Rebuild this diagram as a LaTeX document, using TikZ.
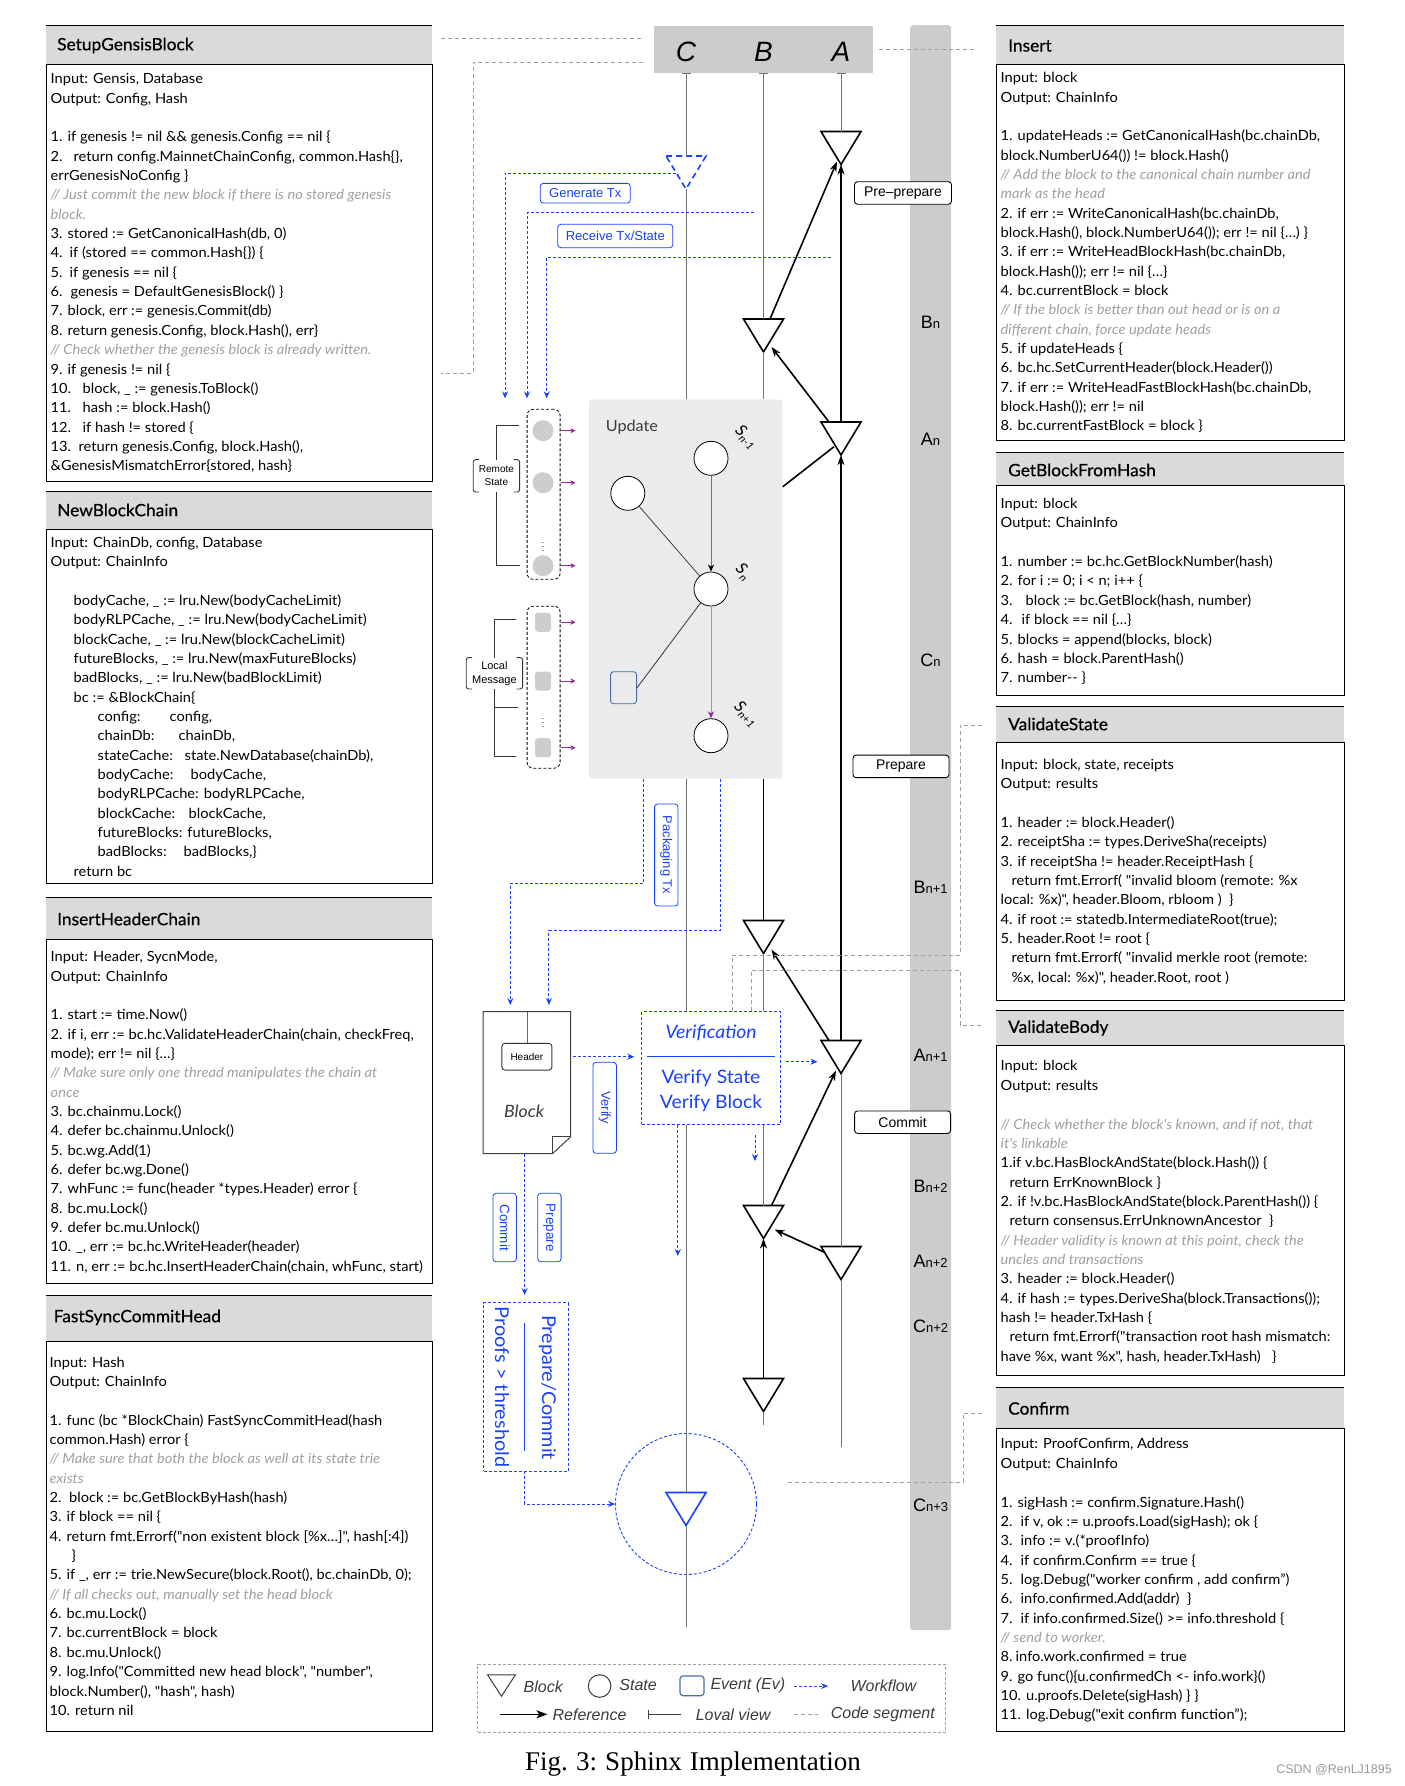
\documentclass[tikz,border=0pt]{standalone}
\usepackage{fontspec}
\usetikzlibrary{arrows.meta,calc}
\setmainfont{Lato}
\newfontfamily\codefont[FakeStretch=1.045]{Lato}
\newfontfamily\ttlfont[FakeBold=0.5,FakeStretch=1.02]{Lato}
\newfontfamily\hfont{Liberation Sans}
\newfontfamily\capfont{Liberation Serif}
\definecolor{hdrgray}{RGB}{218,218,218}
\definecolor{bargray}{RGB}{204,204,204}
\definecolor{updgray}{RGB}{235,235,235}
\definecolor{wfblue}{RGB}{25,65,255}
\definecolor{cmtgray}{RGB}{160,160,160}
\definecolor{pur}{RGB}{150,40,150}
\definecolor{lpur}{RGB}{195,130,200}
\definecolor{evblue}{RGB}{70,110,170}
\definecolor{linegray}{RGB}{115,115,115}
\definecolor{dashgray}{RGB}{160,160,160}
\definecolor{txtgray}{RGB}{60,60,60}
\definecolor{dotgray}{RGB}{205,205,205}
\newcommand\cmt[1]{{\itshape\color{cmtgray}#1}}
\newcommand\tb[2]{\makebox[#1pt][l]{#2}}
\newcommand\barlab[2]{{\fontsize{18}{18}\selectfont #1}{\fontsize{13}{13}\selectfont #2}}
\newcommand\slab[2]{#1{\fontsize{10.5}{10.5}\selectfont\raisebox{-3pt}{#2}}}
\tikzset{
  hdrband/.style={fill=hdrgray},
  codebody/.style={draw=black, line width=1.3pt, anchor=north west, inner sep=0pt},
  codetxt/.style={anchor=north west, inner sep=0pt, align=left, font=\codefont\fontsize{14}{19.35}\selectfont},
  ttl/.style={anchor=west, inner sep=0pt, font=\ttlfont\fontsize{17}{20}\selectfont},
  tribox/.style={minimum width=40pt, minimum height=33pt, inner sep=0pt, outer sep=0pt},
  tl/.style={linegray, line width=0.9pt},
  refl/.style={black, line width=1.6pt},
  refa/.style={black, line width=1.6pt, -{Stealth[length=10pt,width=7pt,inset=3pt]}},
  wf/.style={wfblue, line width=0.9pt, dash pattern=on 3pt off 2pt},
  wfa/.style={wf, -{Stealth[length=7pt,width=6pt,inset=2.5pt]}},
  seg/.style={dashgray, line width=0.9pt, dash pattern=on 4pt off 3pt},
  wfbox/.style={draw=wfblue, line width=0.8pt, rounded corners=3pt, fill=white, text=wfblue, inner sep=0pt, font=\hfont\fontsize{13}{15}\selectfont},
  labbox/.style={draw=black, line width=0.9pt, rounded corners=3pt, fill=white, inner sep=0pt, font=\hfont\fontsize{14}{16}\selectfont},
  barl/.style={font=\hfont, inner sep=0pt},
  stc/.style={circle, draw=black, line width=0.8pt, fill=white, minimum size=34pt, inner sep=0pt},
  pa/.style={pur, line width=0.8pt, -{Stealth[length=5pt,width=5pt,inset=1.5pt]}},
  legtxt/.style={anchor=west, inner sep=0pt, text=txtgray, font=\hfont\itshape\fontsize{16}{18}\selectfont},
  slabel/.style={rotate=-45, inner sep=0pt, font=\codefont\itshape\fontsize{16}{16}\selectfont},
}
\newcommand\blk[4][black]{%
  \node[tribox] (#2) at (#3,#4) {};
  \draw[#1, line width=1.6pt, fill=white, line join=miter] (#2.north west) -- (#2.north east) -- (#2.south) -- cycle;}
\begin{document}
\begin{tikzpicture}[x=1pt,y=-1pt]
\useasboundingbox (0,0) rectangle (1405,1786);
\fill[white] (0,0) rectangle (1405,1786);

% ================= LEFT CODE BOXES =================
% SetupGensisBlock
\fill[hdrband] (46,25) rectangle (432,64);
\draw[line width=0.8pt] (46,25) -- (432,25);
\node[codebody, minimum width=386pt, minimum height=417pt] (sgb) at (46,64) {};
\node[ttl] (sgbT) at (57,45.5) {SetupGensisBlock};
\node[codetxt] (sgbC) at (50.5,70) {\strut Input: Gensis, Database\\
Output: Config, Hash\\
~\\
1. if genesis != nil \&\& genesis.Config == nil \{\\
\tb{23}{2.}return config.MainnetChainConfig, common.Hash\{\},\\
errGenesisNoConfig \}\\
\cmt{// Just commit the new block if there is no stored genesis}\\
\cmt{block.}\\
3. stored := GetCanonicalHash(db, 0)\\
\tb{19}{4.}if (stored == common.Hash\{\}) \{\\
\tb{19}{5.}if genesis == nil \{\\
\tb{20}{6.}genesis = DefaultGenesisBlock() \}\\
7. block, err := genesis.Commit(db)\\
8. return genesis.Config, block.Hash(), err\}\\
\cmt{// Check whether the genesis block is already written.}\\
9. if genesis != nil \{\\
\tb{32}{10.}block, \_ := genesis.ToBlock()\\
\tb{32}{11.}hash := block.Hash()\\
\tb{32}{12.}if hash != stored \{\\
\tb{28}{13.}return genesis.Config, block.Hash(),\\
\&GenesisMismatchError\{stored, hash\}};

% NewBlockChain
\fill[hdrband] (46,491) rectangle (432,529);
\draw[line width=0.8pt] (46,491) -- (432,491);
\node[codebody, minimum width=386pt, minimum height=354pt] (nbc) at (46,529) {};
\node[ttl] (nbcT) at (57,510) {NewBlockChain};
\node[codetxt] (nbcC) at (50.5,533.5) {\strut Input: ChainDb, config, Database\\
Output: ChainInfo\\
~\\
\hspace*{23pt}bodyCache, \_ := lru.New(bodyCacheLimit)\\
\hspace*{23pt}bodyRLPCache, \_ := lru.New(bodyCacheLimit)\\
\hspace*{23pt}blockCache, \_ := lru.New(blockCacheLimit)\\
\hspace*{23pt}futureBlocks, \_ := lru.New(maxFutureBlocks)\\
\hspace*{23pt}badBlocks, \_ := lru.New(badBlockLimit)\\
\hspace*{23pt}bc := \&BlockChain\{\\
\hspace*{47pt}\tb{72}{config:}config,\\
\hspace*{47pt}\tb{81}{chainDb:}chainDb,\\
\hspace*{47pt}\tb{87}{stateCache:}state.NewDatabase(chainDb),\\
\hspace*{47pt}\tb{93}{bodyCache:}bodyCache,\\
\hspace*{47pt}bodyRLPCache: bodyRLPCache,\\
\hspace*{47pt}\tb{91}{blockCache:}blockCache,\\
\hspace*{47pt}futureBlocks: futureBlocks,\\
\hspace*{47pt}\tb{86}{badBlocks:}badBlocks,\}\\
\hspace*{23pt}return bc};

% InsertHeaderChain
\fill[hdrband] (46,897) rectangle (432,939);
\draw[line width=0.8pt] (46,897) -- (432,897);
\node[codebody, minimum width=386pt, minimum height=344pt] (ihc) at (46,939) {};
\node[ttl] (ihcT) at (57,919) {InsertHeaderChain};
\node[codetxt] (ihcC) at (50.5,947.9) {\strut Input: Header, SycnMode,\\
Output: ChainInfo\\
~\\
1. start := time.Now()\\
2. if i, err := bc.hc.ValidateHeaderChain(chain, checkFreq,\\
mode); err != nil \{…\}\\
\cmt{// Make sure only one thread manipulates the chain at}\\
\cmt{once}\\
3. bc.chainmu.Lock()\\
4. defer bc.chainmu.Unlock()\\
5. bc.wg.Add(1)\\
6. defer bc.wg.Done()\\
7. whFunc := func(header *types.Header) error \{\\
8. bc.mu.Lock()\\
9. defer bc.mu.Unlock()\\
10. \_, err := bc.hc.WriteHeader(header)\\
11. n, err := bc.hc.InsertHeaderChain(chain, whFunc, start)};

% FastSyncCommitHead
\fill[hdrband] (46,1295) rectangle (432,1341);
\draw[line width=0.8pt] (46,1295) -- (432,1295);
\node[codebody, minimum width=386pt, minimum height=390pt] (fsc) at (46,1341) {};
\node[ttl] (fscT) at (53.5,1317.4) {FastSyncCommitHead};
\node[codetxt] (fscC) at (49.5,1353.3) {\strut Input: Hash\\
Output: ChainInfo\\
~\\
1. func (bc *BlockChain) FastSyncCommitHead(hash\\
common.Hash) error \{\\
\cmt{// Make sure that both the block as well at its state trie}\\
\cmt{exists}\\
2.\ \ block := bc.GetBlockByHash(hash)\\
3. if block == nil \{\\
4. return fmt.Errorf("non existent block [\%x…]", hash[:4])\\
\hspace*{22pt}\}\\
5. if \_, err := trie.NewSecure(block.Root(), bc.chainDb, 0);\\
\cmt{// If all checks out, manually set the head block}\\
6. bc.mu.Lock()\\
7. bc.currentBlock = block\\
8. bc.mu.Unlock()\\
9. log.Info("Committed new head block", "number",\\
block.Number(), "hash", hash)\\
10. return nil};

% ================= RIGHT CODE BOXES =================
% Insert
\fill[hdrband] (996,25) rectangle (1344,64);
\draw[line width=0.8pt] (996,25) -- (1344,25);
\node[codebody, minimum width=348pt, minimum height=376pt] (ins) at (996,64) {};
\node[ttl] (insT) at (1008,45.5) {Insert};
\node[codetxt] (insC) at (1000.5,68.9) {\strut Input: block\\
Output: ChainInfo\\
~\\
1. updateHeads := GetCanonicalHash(bc.chainDb,\\
block.NumberU64()) != block.Hash()\\
\cmt{// Add the block to the canonical chain number and}\\
\cmt{mark as the head}\\
2. if err := WriteCanonicalHash(bc.chainDb,\\
block.Hash(), block.NumberU64()); err != nil \{…) \}\\
3. if err := WriteHeadBlockHash(bc.chainDb,\\
block.Hash()); err != nil \{…\}\\
4. bc.currentBlock = block\\
\cmt{// If the block is better than out head or is on a}\\
\cmt{different chain, force update heads}\\
5. if updateHeads \{\\
6. bc.hc.SetCurrentHeader(block.Header())\\
7. if err := WriteHeadFastBlockHash(bc.chainDb,\\
block.Hash()); err != nil\\
8. bc.currentFastBlock = block \}};

% GetBlockFromHash
\fill[hdrband] (996,452) rectangle (1344,485);
\draw[line width=0.8pt] (996,452) -- (1344,452);
\node[codebody, minimum width=348pt, minimum height=210pt] (gbh) at (996,485) {};
\node[ttl] (gbhT) at (1008,470) {GetBlockFromHash};
\node[codetxt] (gbhC) at (1000.5,494.8) {\strut Input: block\\
Output: ChainInfo\\
~\\
1. number := bc.hc.GetBlockNumber(hash)\\
2. for i := 0; i < n; i++ \{\\
\tb{25}{3.}block := bc.GetBlock(hash, number)\\
\tb{21}{4.}if block == nil \{…\}\\
5. blocks = append(blocks, block)\\
6. hash = block.ParentHash()\\
7. number{-}{-} \}};

% ValidateState
\fill[hdrband] (996,706) rectangle (1344,742);
\draw[line width=0.8pt] (996,706) -- (1344,706);
\node[codebody, minimum width=348pt, minimum height=258pt] (vst) at (996,742) {};
\node[ttl] (vstT) at (1008,724) {ValidateState};
\node[codetxt] (vstC) at (1000.5,755.5) {\strut Input: block, state, receipts\\
Output: results\\
~\\
1. header := block.Header()\\
2. receiptSha := types.DeriveSha(receipts)\\
3. if receiptSha != header.ReceiptHash \{\\
\hspace*{11pt}return fmt.Errorf( "invalid bloom (remote: \%x\\
local: \%x)", header.Bloom, rbloom )\ \ \}\\
4. if root := statedb.IntermediateRoot(true);\\
5. header.Root != root \{\\
\hspace*{11pt}return fmt.Errorf( "invalid merkle root (remote:\\
\hspace*{11pt}\%x, local: \%x)", header.Root, root )};

% ValidateBody
\fill[hdrband] (996,1010) rectangle (1344,1045);
\draw[line width=0.8pt] (996,1010) -- (1344,1010);
\node[codebody, minimum width=348pt, minimum height=330pt] (vbd) at (996,1045) {};
\node[ttl] (vbdT) at (1008,1028) {ValidateBody};
\node[codetxt] (vbdC) at (1000.5,1057.2) {\strut Input: block\\
Output: results\\
~\\
\cmt{// Check whether the block's known, and if not, that}\\
\cmt{it's linkable}\\
1.if v.bc.HasBlockAndState(block.Hash()) \{\\
\hspace*{9pt}return ErrKnownBlock \}\\
2. if !v.bc.HasBlockAndState(block.ParentHash()) \{\\
\hspace*{9pt}return consensus.ErrUnknownAncestor\ \ \}\\
\cmt{// Header validity is known at this point, check the}\\
\cmt{uncles and transactions}\\
3. header := block.Header()\\
4. if hash := types.DeriveSha(block.Transactions());\\
hash != header.TxHash \{\\
\hspace*{9pt}return fmt.Errorf("transaction root hash mismatch:\\
have \%x, want \%x", hash, header.TxHash)\ \ \ \}};

% Confirm
\fill[hdrband] (996,1387) rectangle (1344,1428);
\draw[line width=0.8pt] (996,1387) -- (1344,1387);
\node[codebody, minimum width=348pt, minimum height=303pt] (cnf) at (996,1428) {};
\node[ttl] (cnfT) at (1008,1408.4) {Confirm};
\node[codetxt] (cnfC) at (1000.5,1435.2) {\strut Input: ProofConfirm, Address\\
Output: ChainInfo\\
~\\
1. sigHash := confirm.Signature.Hash()\\
\tb{20}{2.}if v, ok := u.proofs.Load(sigHash); ok \{\\
\tb{20}{3.}info := v.(*proofInfo)\\
\tb{20}{4.}if confirm.Confirm == true \{\\
\tb{20}{5.}log.Debug("worker confirm , add confirm”)\\
\tb{20}{6.}info.confirmed.Add(addr)\ \ \}\\
\tb{20}{7.}if info.confirmed.Size() >= info.threshold \{\\
\cmt{// send to worker.}\\
\tb{15}{8.}info.work.confirmed = true\\
9. go func()\{u.confirmedCh <- info.work\}()\\
10. u.proofs.Delete(sigHash) \} \}\\
11. log.Debug("exit confirm function”);};

% ================= CENTER =================
% right gray timeline bar
\node[fill=bargray, rounded corners=3pt, minimum width=41pt, minimum height=1605pt, inner sep=0pt, anchor=north west] (bar) at (910,25) {};
\node[barl] (lBn) at (930.6,322) {\barlab{B}{n}};
\node[barl] (lAn) at (930.6,439.5) {\barlab{A}{n}};
\node[barl] (lCn) at (930.6,660) {\barlab{C}{n}};
\node[barl] (lBn1) at (930.6,887) {\barlab{B}{n+1}};
\node[barl] (lAn1) at (930.6,1055.5) {\barlab{A}{n+1}};
\node[barl] (lBn2) at (930.6,1186) {\barlab{B}{n+2}};
\node[barl] (lAn2) at (930.6,1261.5) {\barlab{A}{n+2}};
\node[barl] (lCn2) at (930.6,1326.5) {\barlab{C}{n+2}};
\node[barl] (lCn3) at (930.6,1505) {\barlab{C}{n+3}};

% phase labels
\node[labbox, minimum width=97pt, minimum height=22.5pt] (ppre) at (903,193) {Pre–prepare};
\node[labbox, minimum width=96pt, minimum height=22.5pt] (pprep) at (901,766.4) {Prepare};
\node[labbox, minimum width=96pt, minimum height=22.5pt] (pcom) at (902.6,1122.2) {Commit};

% top CBA box
\node[fill=bargray, minimum width=219pt, minimum height=47pt, inner sep=0pt, anchor=north west] (cba) at (654,26) {};
\node[font=\hfont\itshape\fontsize{28}{28}\selectfont, inner sep=0pt] (lC) at (686,52) {C};
\node[font=\hfont\itshape\fontsize{28}{28}\selectfont, inner sep=0pt] (lB) at (763.5,52) {B};
\node[font=\hfont\itshape\fontsize{28}{28}\selectfont, inner sep=0pt] (lA) at (841,52) {A};

% Update box
\node[fill=updgray, rounded corners=3pt, minimum width=193.5pt, minimum height=379pt, inner sep=0pt, anchor=north west] (upd) at (588.9,399.3) {};
\node[anchor=west, inner sep=0pt, text=txtgray, font=\codefont\fontsize{15.5}{18}\selectfont] (updT) at (605.6,426.7) {Update};
\node[stc] (s1) at (711,458.3) {};
\node[stc] (s0) at (627.8,493.3) {};
\node[stc] (sn) at (711,589) {};
\node[stc] (s2) at (711,735.7) {};
\node[draw=evblue, line width=0.9pt, rounded corners=3pt, minimum width=26pt, minimum height=32pt, inner sep=0pt] (ev) at (623.6,687.7) {};
\draw[black!75, line width=0.8pt] (s0) -- (sn);
\draw[linegray, line width=0.9pt, -{Stealth[length=7pt,width=6pt,inset=2pt,black]}] (s1) -- (sn);
\draw[black!80, line width=0.8pt] (sn) -- (ev.east);
\draw[lpur, line width=1pt, -{Stealth[length=7pt,width=6pt,inset=2pt,pur]}] (sn) -- (s2);
\node[slabel] (s1l) at (746,437) {\slab{S}{n-1}};
\node[slabel] (snl) at (743,572) {\slab{S}{n}};
\node[slabel] (s2l) at (746,714) {\slab{S}{n+1}};

% Remote state group
\node[draw, line width=0.8pt, dash pattern=on 3pt off 2pt, rounded corners=6pt, minimum width=33pt, minimum height=170pt, inner sep=0pt] (rs) at (543.6,494.3) {};
\node[circle, fill=dotgray, minimum size=21pt, inner sep=0pt] (rs1) at (543,430.7) {};
\node[circle, fill=dotgray, minimum size=21pt, inner sep=0pt] (rs2) at (543,482.7) {};
\node[circle, fill=dotgray, minimum size=21pt, inner sep=0pt] (rs3) at (543,565.7) {};
\node[inner sep=0pt, font=\fontsize{8}{8}\selectfont] (rsd) at (543,544) {$\vdots$};
\draw[pa] (rs.east |- rs1) -- ++(15,0);
\draw[pa] (rs.east |- rs2) -- ++(15,0);
\draw[pa] (rs.east |- rs3) -- ++(15,0);
\draw[black!80, line width=1pt] (519,425.7) -- (496.7,425.7) -- (496.7,565) -- (520,565);
\node[fill=white, minimum width=46pt, minimum height=32pt, inner sep=0pt, align=center, font=\hfont\fontsize{10}{13}\selectfont] (rsl) at (496.4,475.8) {Remote\\State};
\draw[black!80, line width=0.9pt, rounded corners=2.5pt] ([xshift=6pt]rsl.north west) -- (rsl.north west) -- (rsl.south west) -- ([xshift=6pt]rsl.south west);
\draw[black!80, line width=0.9pt, rounded corners=2.5pt] ([xshift=-6pt]rsl.north east) -- (rsl.north east) -- (rsl.south east) -- ([xshift=-6pt]rsl.south east);

% Local message group
\node[draw, line width=0.8pt, dash pattern=on 3pt off 2pt, rounded corners=6pt, minimum width=33pt, minimum height=162pt, inner sep=0pt] (lm) at (543.6,687.2) {};
\node[fill=dotgray, rounded corners=3pt, minimum width=16pt, minimum height=19pt, inner sep=0pt] (lm1) at (543,622.3) {};
\node[fill=dotgray, rounded corners=3pt, minimum width=16pt, minimum height=19pt, inner sep=0pt] (lm2) at (543,681) {};
\node[fill=dotgray, rounded corners=3pt, minimum width=16pt, minimum height=19pt, inner sep=0pt] (lm3) at (543,747.7) {};
\node[inner sep=0pt, font=\fontsize{8}{8}\selectfont] (lmd) at (543,720) {$\vdots$};
\draw[pa] (lm.east |- lm1) -- ++(15,0);
\draw[pa] (lm.east |- lm2) -- ++(15,0);
\draw[pa] (lm.east |- lm3) -- ++(15,0);
\draw[black!80, line width=1pt] (516,619) -- (494.2,619) -- (494.2,756.7) -- (516,756.7);
\draw[black!80, line width=1pt] (494.2,707.3) -- (518,707.3);
\node[fill=white, minimum width=56pt, minimum height=31pt, inner sep=0pt, align=center, font=\hfont\fontsize{11}{14}\selectfont] (lml) at (494.4,673.3) {Local\\Message};
\draw[black!80, line width=0.9pt, rounded corners=2.5pt] ([xshift=6pt]lml.north west) -- (lml.north west) -- (lml.south west) -- ([xshift=6pt]lml.south west);
\draw[black!80, line width=0.9pt, rounded corners=2.5pt] ([xshift=-6pt]lml.north east) -- (lml.north east) -- (lml.south east) -- ([xshift=-6pt]lml.south east);

% Block document
\node[minimum width=87pt, minimum height=141.6pt, inner sep=0pt] (blkd) at (526.9,1082.5) {};
\draw[black!75, line width=1pt, fill=white] (blkd.north west) -- (blkd.north east) -- ([yshift=16.6pt]blkd.south east) -- ([xshift=-18pt]blkd.south east) -- (blkd.south west) -- cycle;
\draw[black!75, line width=1pt] ([yshift=16.6pt]blkd.south east) -- ([xshift=-18pt,yshift=16.6pt]blkd.south east) -- ([xshift=-18pt]blkd.south east);
\node[draw=black!80, line width=0.9pt, rounded corners=3pt, minimum width=50pt, minimum height=26.7pt, inner sep=0pt, font=\hfont\fontsize{10}{12}\selectfont] (hdr) at (526.9,1056.7) {Header};
\draw[black!60, line width=0.8pt] (hdr.north |- blkd.north) -- (hdr.north);
\node[inner sep=0pt, text=txtgray, font=\codefont\itshape\fontsize{17}{20}\selectfont] (blkT) at (524.2,1111.7) {Block};

% Verification box
\node[draw=wfblue, line width=0.9pt, dash pattern=on 3pt off 2pt, minimum width=138.6pt, minimum height=112.6pt, inner sep=0pt] (ver) at (711,1068) {};
\node[inner sep=0pt, text=wfblue, font=\codefont\itshape\fontsize{18.5}{22}\selectfont] (verT) at (711,1033.3) {Verification};
\draw[wfblue, line width=1pt] (646.7,1056.7) -- (774.6,1056.7);
\node[inner sep=0pt, text=wfblue, align=center, font=\codefont\fontsize{18.5}{25}\selectfont] (verB) at (711,1091) {Verify State\\Verify Block};

% Proofs box
\node[draw=wfblue, line width=0.9pt, dash pattern=on 3pt off 2pt, minimum width=84.5pt, minimum height=168.3pt, inner sep=0pt] (prf) at (525.75,1386.85) {};
\node[rotate=-90, inner sep=0pt, text=wfblue, font=\codefont\fontsize{19}{22}\selectfont] (prfA) at (502,1387) {Proofs > threshold};
\node[rotate=-90, inner sep=0pt, text=wfblue, font=\codefont\fontsize{19}{22}\selectfont] (prfB) at (547.4,1387.5) {Prepare/Commit};
\draw[wfblue, line width=1pt] (524.2,1323.3) -- (524.2,1450.7);

% confirm circle
\node[circle, draw=wfblue, line width=0.9pt, dash pattern=on 3pt off 2pt, minimum size=141pt, inner sep=0pt] (cf) at (686,1504) {};

% blue workflow labels
\node[wfbox, minimum width=90pt, minimum height=19.7pt] (gtx) at (585.3,193.2) {Generate Tx};
\node[wfbox, minimum width=115pt, minimum height=23.4pt] (rtx) at (615.3,236) {Receive Tx/State};
\node[wfbox, rotate=-90, minimum width=102pt, minimum height=23.4pt] (pk) at (666.3,855) {Packaging Tx};
\node[wfbox, rotate=-90, minimum width=91pt, minimum height=23.4pt] (vfy) at (604.7,1107.8) {Verify};
\node[wfbox, rotate=-90, minimum width=68.4pt, minimum height=23.4pt, font=\hfont\fontsize{13.5}{15}\selectfont] (cmt) at (504.7,1227.5) {Commit};
\node[wfbox, rotate=-90, minimum width=68.4pt, minimum height=23.4pt, font=\hfont\fontsize{13.5}{15}\selectfont] (prp) at (549.4,1227.5) {Prepare};

% ---- triangles (blocks) ----
\blk{A1}{841}{148}
\blk[wfblue, dash pattern=on 6pt off 4pt]{Cd}{686}{172.5}
\blk{B1}{763.5}{335.5}
\blk{A2}{841}{438.5}
\blk{B2}{763.5}{937}
\blk{A3}{841}{1057}
\blk{B3}{763.5}{1222}
\blk{A4}{841}{1263}
\blk{B4}{763.5}{1395}
\blk[wfblue]{Cb}{686}{1509}

% ---- local view lines ----
\draw[tl, {Bar[width=9pt]}-] (686,73) -- (Cd.north);
\draw[tl] (Cd.south) -- (Cd.south |- upd.north);
\draw[tl] (upd.south -| Cd) -- (ver.north -| Cd);
\draw[tl] (ver.south -| Cd) -- (Cb.north);
\draw[tl] (Cb.south) -- (686,1626.7);
\draw[tl, {Bar[width=9pt]}-] (763.5,73) -- (B1.north);
\draw[tl] (B1.south) -- (B1.south |- upd.north);
\draw[refl] (upd.south -| B1) -- (B2.north);
\draw[tl] (B2.south) -- (ver.north -| B2);
\draw[tl] (ver.south -| B2) -- (B3.north);
\draw[tl] (B4.south) -- (763.5,1425);
\draw[tl, {Bar[width=9pt]}-] (841,73) -- (A1.north);
\draw[tl] (A3.south) -- (A4.north);
\draw[tl] (A4.south) -- (841,1447);

% ---- reference arrows ----
\draw[refa] (A2.north) -- (A1.south);
\draw[refa] (A3.north) -- (A2.south);
\draw[refa] (B4.north) -- (B3.south);
\draw[refa] ([xshift=6.5pt]B1.north) -- ([xshift=-4pt,yshift=3pt]A1.south);
\draw[refa] ([xshift=-12pt]A2.north) -- ([xshift=8pt,yshift=5pt]B1.south);
\draw[refl] ([xshift=-7pt,yshift=-24.7pt]A2.north) -- ([yshift=-87.4pt]upd.north east);
\draw[refa] ([xshift=-12pt]A3.north) -- ([xshift=8pt,yshift=4pt]B2.south);
\draw[refa] ([xshift=8pt]B3.north) -- ([xshift=-5pt,yshift=3pt]A3.south);
\draw[refa] ([xshift=-16pt,yshift=-6pt]A4.north) -- ([xshift=11pt,yshift=9pt]B3.south);

% ---- workflow (blue dashed) ----
\draw[wfa] (676,173.3) -- (505,173.3) -- (505,398.3);
\draw[wfa] (753.9,212.7) -- (527,212.7) -- (527,398.3);
\draw[wfa] (830.6,257.3) -- (546.7,257.3) -- (546.7,398.3);
\draw[wfa] (upd.south -| 643.5,0) -- (643.5,883.3) -- (510.3,883.3) -- (510.3,1005);
\draw[wfa] (upd.south -| 720,0) -- (720,930.3) -- (548.9,930.3) -- (548.9,1005);
\draw[wfa] ([xshift=2.5pt]blkd.east |- 0,1056.7) -- ([xshift=-7pt]ver.west |- 0,1056.7);
\draw[wfa] ([xshift=5pt]ver.east |- 0,1061.7) -- (817.4,1061.7);
\draw[wfa] (ver.south -| 677.8,0) -- (677.8,1256);
\draw[wfa] (755,1135) -- (755,1161);
\draw[wfa] (blkd.south -| 524.6,0) -- (524.6,1295);
\draw[wfa] (prf.south -| 524.2,0) -- (524.2,1504) -- (cf.west);

% ---- code segment links (gray dashed) ----
\draw[seg] (441,38) -- (643,38);
\draw[seg] (643,62) -- (473,62) -- (473,373) -- (441,373);
\draw[seg] (879,49) -- (977,49);
\draw[seg] (ver.north -| 732,0) -- (732,955) -- (960,955) -- (960,725) -- (982,725);
\draw[seg] (ver.north -| 751.4,0) -- (751.4,970) -- (960,970) -- (960,1025) -- (982,1025);
\draw[seg] (788,1482) -- (963,1482) -- (963,1413) -- (985,1413);

% ================= LEGEND =================
\node[draw=dashgray, line width=0.9pt, dash pattern=on 3pt off 2pt, minimum width=467.2pt, minimum height=68.3pt, inner sep=0pt] (legbox) at (711.4,1698.2) {};
\node[minimum width=27.5pt, minimum height=21pt, inner sep=0pt] (lgT) at (501.5,1685.5) {};
\draw[txtgray, line width=1pt, line join=miter] (lgT.north west) -- (lgT.north east) -- (lgT.south) -- cycle;
\node[legtxt] (lgT1) at (523.5,1687) {Block};
\node[circle, draw=txtgray, line width=1pt, minimum size=22.6pt, inner sep=0pt] (lgS) at (599.6,1686) {};
\node[legtxt] (lgS1) at (619.2,1685) {State};
\node[draw=evblue, line width=1.2pt, rounded corners=3pt, minimum width=24pt, minimum height=19.7pt, inner sep=0pt] (lgE) at (692,1685.8) {};
\node[legtxt] (lgE1) at (710.3,1685) {Event (Ev)};
\coordinate (lgW0) at (794.2,1686);
\coordinate (lgW1) at (828,1686);
\draw[wfa] (lgW0) -- (lgW1);
\node[legtxt] (lgW2) at (850.3,1686) {Workflow};
\coordinate (lgR0) at (500.3,1714.3);
\coordinate (lgR1) at (547.4,1714.3);
\draw[black, line width=1.5pt, -{Stealth[length=11pt,width=8pt,inset=3pt]}] (lgR0) -- (lgR1);
\node[legtxt] (lgR2) at (552.4,1714.3) {Reference};
\coordinate (lgL0) at (647.8,1714.3);
\coordinate (lgL1) at (680.6,1714.3);
\draw[txtgray, line width=0.8pt, {Bar[width=9pt]}-] (lgL0) -- (lgL1);
\node[legtxt] (lgL2) at (695.6,1715) {Loval view};
\coordinate (lgC0) at (794.2,1714.3);
\coordinate (lgC1) at (818,1714.3);
\draw[seg] (lgC0) -- (lgC1);
\node[legtxt] (lgC2) at (830.6,1714.3) {Code segment};

% caption & watermark
\node[inner sep=0pt, font=\capfont\fontsize{27}{30}\selectfont] (cap) at (693,1764) {Fig.\hspace{8.2pt}3:\hspace{8.2pt}Sphinx\hspace{8.2pt}Implementation};
\node[anchor=east, inner sep=0pt, text=black!40, font=\hfont\fontsize{12.5}{14}\selectfont] (wm) at (1392,1770) {CSDN @RenLJ1895};
\end{tikzpicture}
\end{document}
